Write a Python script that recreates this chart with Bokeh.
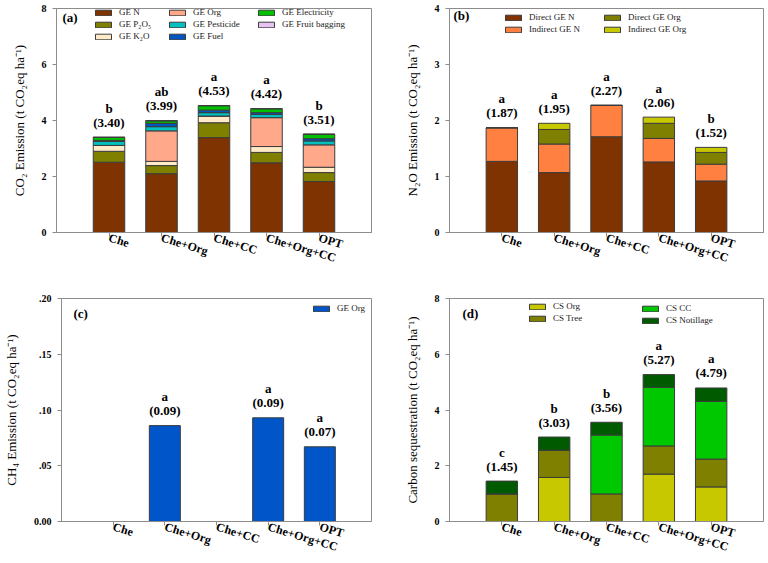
from bokeh.plotting import figure
from bokeh.models import (ColumnDataSource, Legend, LegendItem, LabelSet, Label,
                          FixedTicker, CustomJSTickFormatter, Range1d)
from bokeh.layouts import row, column
from bokeh.embed import file_html
from bokeh.resources import INLINE

# ---------------- data ----------------
treatments = ["Che", "Che+Org", "Che+CC", "Che+Org+CC", "OPT"]
xpos = [1, 2, 3, 4, 5]

# (a) CO2 emission components
co2_labels = ["GE N", "GE P₂O₅", "GE K₂O", "GE Org", "GE Pesticide",
              "GE Fuel", "GE Electricity", "GE Fruit bagging"]
co2_ge_n = [2.51, 2.10, 3.39, 2.49, 1.82]
co2_ge_p2o5 = [0.39, 0.29, 0.53, 0.37, 0.32]
co2_ge_k2o = [0.21, 0.15, 0.24, 0.21, 0.19]
co2_ge_org = [0.00, 1.09, 0.00, 1.03, 0.80]
co2_ge_pesticide = [0.14, 0.15, 0.12, 0.12, 0.14]
co2_ge_fuel = [0.04, 0.12, 0.09, 0.06, 0.08]
co2_ge_electricity = [0.11, 0.09, 0.16, 0.14, 0.16]
co2_ge_fruit_bagging = [0.00, 0.00, 0.00, 0.00, 0.00]
co2_total = [3.40, 3.99, 4.53, 4.42, 3.51]
co2_letters = ["b", "ab", "a", "a", "b"]
co2_yticks = [0, 2, 4, 6, 8]

# (b) N2O emission components
n2o_labels = ["Direct GE N", "Indirect GE N", "Direct GE Org", "Indirect GE Org"]
n2o_direct_n = [1.27, 1.07, 1.71, 1.26, 0.92]
n2o_indirect_n = [0.60, 0.51, 0.56, 0.42, 0.30]
n2o_direct_org = [0.00, 0.26, 0.00, 0.27, 0.21]
n2o_indirect_org = [0.00, 0.11, 0.00, 0.11, 0.09]
n2o_total = [1.87, 1.95, 2.27, 2.06, 1.52]
n2o_letters = ["a", "a", "a", "a", "b"]
n2o_yticks = [0, 1, 2, 3, 4]

# (c) CH4 emission
ch4_labels = ["GE Org"]
ch4_ge_org = [0.0, 0.086, 0.0, 0.093, 0.067]
ch4_total_text = ["", "(0.09)", "", "(0.09)", "(0.07)"]
ch4_letters = ["", "a", "", "a", "a"]
ch4_yticks = [0.0, 0.05, 0.10, 0.15, 0.20]

# (d) carbon sequestration
cs_labels = ["CS Org", "CS Tree", "CS CC", "CS Notillage"]
cs_org = [0.00, 1.58, 0.00, 1.70, 1.24]
cs_tree = [0.99, 0.98, 0.99, 1.01, 1.00]
cs_cc = [0.00, 0.00, 2.11, 2.10, 2.07]
cs_notillage = [0.46, 0.47, 0.46, 0.46, 0.48]
cs_total = [1.45, 3.03, 3.56, 5.27, 4.79]
cs_letters = ["c", "b", "b", "a", "a"]
cs_yticks = [0, 2, 4, 6, 8]

# ---------------- styles ----------------
FONT = "Liberation Serif"
OUTLINE = "#3c3c3c"
FRAME = "#8c8c8c"
co2_colors = ["#7f3300", "#7f7f00", "#ffebc8", "#ffa98a", "#00c0c0",
              "#0055c0", "#00c000", "#e6c3f0"]
n2o_colors = ["#7f3300", "#ff8040", "#7f7f00", "#c8c800"]
ch4_colors = ["#0055c8"]
cs_colors = ["#c8c800", "#7f7f00", "#00c800", "#005a00"]


def make_fig(width, height, bl, br, bt, bb, ymax, yticks, ylabel):
    p = figure(width=width, height=height, x_range=Range1d(0, 6),
               y_range=Range1d(0, ymax), output_backend="svg",
               toolbar_location=None, min_border_left=bl, min_border_right=br,
               min_border_top=bt, min_border_bottom=bb)
    p.grid.visible = False
    p.outline_line_color = FRAME
    p.outline_line_width = 1
    p.background_fill_color = "white"
    p.border_fill_color = "white"
    # x axis
    p.xaxis.ticker = FixedTicker(ticks=xpos)
    p.xaxis.formatter = CustomJSTickFormatter(args=dict(labels=treatments),
                                              code="return labels[index];")
    p.xaxis.major_label_orientation = -0.29
    p.xaxis.major_label_text_font = FONT
    p.xaxis.major_label_text_font_style = "bold"
    p.xaxis.major_label_text_font_size = "12px"
    p.xaxis.major_label_text_color = "black"
    p.xaxis.major_label_standoff = 1
    p.xaxis.major_tick_out = 4
    p.xaxis.major_tick_in = 0
    p.xaxis.minor_tick_line_color = None
    p.xaxis.axis_line_color = FRAME
    p.xaxis.major_tick_line_color = FRAME
    # y axis
    p.yaxis.ticker = FixedTicker(ticks=yticks)
    p.yaxis.major_tick_out = 4
    p.yaxis.major_tick_in = 0
    p.yaxis.minor_tick_line_color = None
    p.yaxis.axis_line_color = FRAME
    p.yaxis.major_tick_line_color = FRAME
    p.yaxis.major_label_text_font = FONT
    p.yaxis.major_label_text_font_style = "bold"
    p.yaxis.major_label_text_font_size = "10px"
    p.yaxis.major_label_text_color = "black"
    p.yaxis.major_label_standoff = 6
    p.yaxis.axis_label = ylabel
    p.yaxis.axis_label_text_font = FONT
    p.yaxis.axis_label_text_font_style = "normal"
    p.yaxis.axis_label_text_font_size = "13px"
    p.yaxis.axis_label_text_color = "black"
    p.yaxis.axis_label_standoff = 12
    return p


def stack(p, layers, colors):
    data = dict(x=xpos)
    keys = []
    for i, vals in enumerate(layers):
        k = "s%d" % i
        data[k] = vals
        keys.append(k)
    src = ColumnDataSource(data)
    return p.vbar_stack(keys, x="x", width=0.6, source=src, fill_color=colors,
                        line_color=OUTLINE, line_width=1)


def annotate(p, totals_text, letters, totals_y):
    src = ColumnDataSource(dict(x=xpos, y=totals_y, v=totals_text, l=letters))
    for col, off in (("v", 15), ("l", 29)):
        p.add_layout(LabelSet(x="x", y="y", text=col, source=src, y_offset=off,
                              text_align="center", text_baseline="middle",
                              text_font=FONT, text_font_style="bold",
                              text_font_size="13px", text_color="black"))


def legend(p, rs, names, x, y):
    items = [LegendItem(label=n, renderers=[r]) for n, r in zip(names, rs)]
    lg = Legend(items=items, location=(x, y), orientation="vertical",
                glyph_width=20, glyph_height=7, label_height=12,
                label_standoff=6, spacing=0, padding=0, margin=0,
                label_text_font=FONT, label_text_font_size="9px",
                label_text_color="#222222", border_line_color=None,
                background_fill_alpha=0)
    p.add_layout(lg, "center")


def panel_tag(p, text, x, y):
    p.add_layout(Label(x=x, y=y, x_units="screen", y_units="screen", text=text,
                       text_font=FONT, text_font_style="bold",
                       text_font_size="13px", text_baseline="middle",
                       text_color="black"))


# (a)
pa = make_fig(384, 274, 56, 13, 6, 42, 8, co2_yticks,
              "CO₂ Emission (t CO₂eq ha⁻¹)")
ra = stack(pa, [co2_ge_n, co2_ge_p2o5, co2_ge_k2o, co2_ge_org, co2_ge_pesticide,
                co2_ge_fuel, co2_ge_electricity, co2_ge_fruit_bagging],
           co2_colors)
annotate(pa, ["(%.2f)" % v for v in co2_total], co2_letters, co2_total)
legend(pa, ra[0:3], co2_labels[0:3], 37, 190)
legend(pa, ra[3:6], co2_labels[3:6], 111, 190)
legend(pa, ra[6:8], co2_labels[6:8], 200, 202)
panel_tag(pa, "(a)", 6, 215)

# (b)
pb = make_fig(384, 274, 65, 5, 8, 42, 4, n2o_yticks,
              "N₂O Emission (t CO₂eq ha⁻¹)")
rb = stack(pb, [n2o_direct_n, n2o_indirect_n, n2o_direct_org, n2o_indirect_org],
           n2o_colors)
annotate(pb, ["(%.2f)" % v for v in n2o_total], n2o_letters, n2o_total)
legend(pb, rb[0:2], n2o_labels[0:2], 54, 197)
legend(pb, rb[2:4], n2o_labels[2:4], 153, 197)
panel_tag(pb, "(b)", 4, 217)

# (c)
pc = make_fig(384, 289, 55, 13, 24, 42, 0.2, ch4_yticks,
              "CH₄ Emission (t CO₂eq ha⁻¹)")
pc.yaxis.formatter = CustomJSTickFormatter(
    code="return tick == 0 ? '0.00' : tick.toFixed(2).replace(/^0/, '');")
rc = stack(pc, [ch4_ge_org], ch4_colors)
annotate(pc, ch4_total_text, ch4_letters, ch4_ge_org)
legend(pc, rc, ch4_labels, 250, 207)
panel_tag(pc, "(c)", 12, 208)

# (d)
pd_ = make_fig(384, 289, 65, 5, 23, 42, 8, cs_yticks,
               "Carbon sequestration (t CO₂eq ha⁻¹)")
rd = stack(pd_, [cs_org, cs_tree, cs_cc, cs_notillage], cs_colors)
annotate(pd_, ["(%.2f)" % v for v in cs_total], cs_letters, cs_total)
legend(pd_, rd[0:2], cs_labels[0:2], 78, 197)
legend(pd_, rd[2:4], cs_labels[2:4], 191, 195)
panel_tag(pd_, "(d)", 13, 208)

layout = column(row(pa, pb, spacing=0), row(pc, pd_, spacing=0), spacing=0)
open("out.html", "w").write(file_html(layout, INLINE))
